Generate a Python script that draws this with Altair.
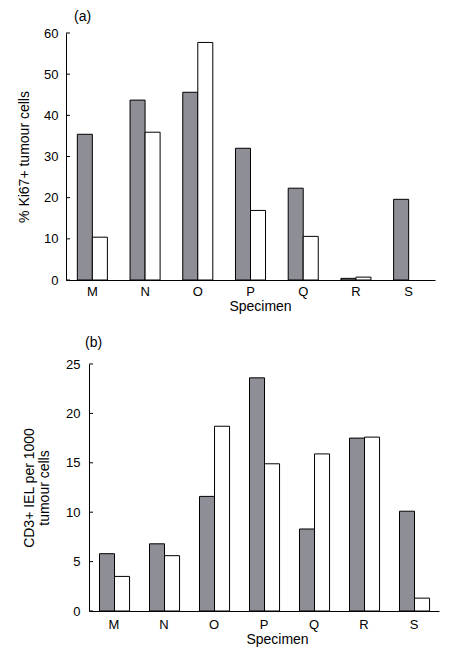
import altair as alt
import pandas as pd

specimens = ["M", "N", "O", "P", "Q", "R", "S"]
series = ["grey", "white"]

ki67_grey = [35.4, 43.7, 45.6, 32.0, 22.3, 0.4, 19.6]
ki67_white = [10.4, 35.9, 57.7, 16.9, 10.6, 0.7, 0.0]
ki67_ticks = [0, 10, 20, 30, 40, 50, 60]

cd3_grey = [5.8, 6.8, 11.6, 23.6, 8.3, 17.5, 10.1]
cd3_white = [3.5, 5.6, 18.7, 14.9, 15.9, 17.6, 1.3]
cd3_ticks = [0, 5, 10, 15, 20, 25]

FONT = "Liberation Sans"


def panel(grey, white, ticks, shift, width, label, label_dx, ytitle, ytitle_pad,
          ylab_pad, xlab_pad, xtitle_x, pad_inner, title_offset):
    df = pd.DataFrame({
        "Specimen": specimens * 2,
        "series": [series[0]] * len(specimens) + [series[1]] * len(specimens),
        "value": grey + white,
    })
    df = df[df["value"] > 0]
    yscale = alt.Scale(domain=[ticks[0], ticks[-1]], nice=False)
    yaxis = alt.Axis(values=ticks, ticks=False, title=ytitle, offset=-shift,
                     labelPadding=ylab_pad, titlePadding=ytitle_pad,
                     titleLineHeight=15)
    bars = alt.Chart(df).mark_bar(stroke="black", strokeWidth=1).encode(
        x=alt.X("Specimen:N", sort=specimens,
                scale=alt.Scale(range=[shift, width], paddingInner=pad_inner,
                                paddingOuter=pad_inner / 2),
                axis=alt.Axis(title="Specimen", labelAngle=0, ticks=False,
                              labelPadding=xlab_pad, titlePadding=1,
                              titleX=xtitle_x, titleAlign="center")),
        xOffset=alt.XOffset("series:N", sort=series),
        y=alt.Y("value:Q", scale=yscale, axis=yaxis),
        color=alt.Color("series:N", scale=alt.Scale(domain=series, range=["#8e8e96", "#ffffff"]),
                        legend=None),
    )
    tk = alt.Chart(pd.DataFrame({"t": ticks})).mark_rule(color="black", strokeWidth=1).encode(
        y=alt.Y("t:Q", scale=yscale, axis=yaxis),
        x=alt.value(shift),
        x2=alt.value(shift + 4),
    )
    return alt.layer(bars, tk).properties(
        width=width, height=247,
        title=alt.TitleParams(label, anchor="start", frame="group", dx=label_dx,
                              fontSize=14, fontWeight="normal", font=FONT,
                              offset=title_offset, color="black"),
    )


a = panel(ki67_grey, ki67_white, ki67_ticks, 0, 369, "(a)", 8, "% Ki67+ tumour cells",
          12.5, 8, 5, 194, 0.43, 3)
b = panel(cd3_grey, cd3_white, cd3_ticks, 23, 373, "(b)", 19,
          ["CD3+ IEL per 1000", "tumour cells"],
          14.5, 9, 7, 211, 0.42, 8)

chart = alt.vconcat(a, b, spacing=23).properties(
    padding={"left": 9, "top": 2, "right": 5, "bottom": 5}
).configure_view(stroke=None).configure_axis(
    grid=False, domainColor="black", domainWidth=1,
    labelFont=FONT, labelFontSize=13, labelColor="black",
    titleFont=FONT, titleFontSize=14, titleFontWeight="normal", titleColor="black",
)

chart.save("out.html", embed_options={"renderer": "svg", "actions": False})
